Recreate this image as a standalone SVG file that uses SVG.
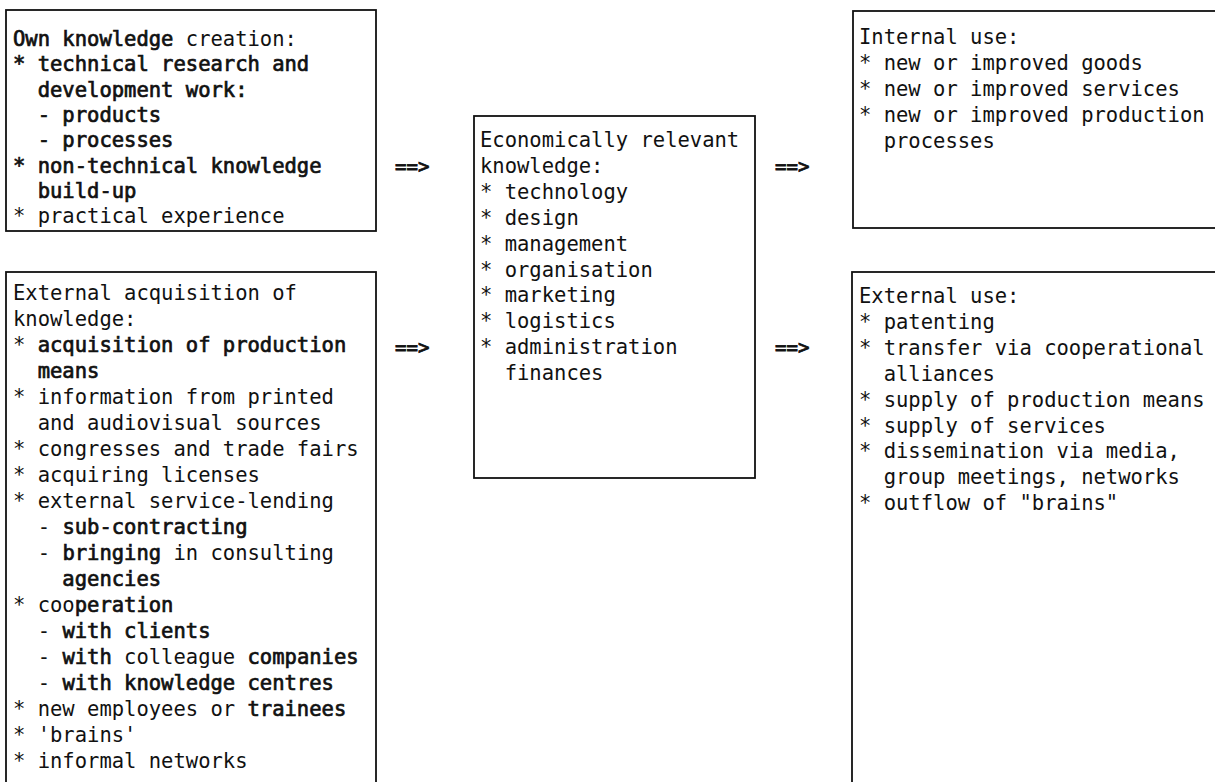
<svg xmlns="http://www.w3.org/2000/svg" width="1215" height="782" viewBox="0 0 1215 782">
<style>
  .box { fill: #ffffff; stroke: #111111; stroke-width: 1.8; }
  text { font-family: "DejaVu Sans Mono", "Liberation Mono", monospace; font-size: 20.5px; fill: #111111; white-space: pre; }
  .b { stroke: #111111; stroke-width: 0.7; }
  .arrow { font-size: 19px; stroke: #111111; stroke-width: 0.8; }
</style>
<rect x="0" y="0" width="1215" height="782" fill="#ffffff"/>

<g id="own-knowledge-creation">
  <rect class="box" x="6" y="10" width="370" height="221"/>
  <text x="13" y="46"><tspan class="b">Own knowledge</tspan> creation:</text>
  <text x="13" y="71.3" class="b">* technical research and</text>
  <text x="13" y="96.6" class="b">  development work:</text>
  <text x="13" y="121.9" class="b">  - products</text>
  <text x="13" y="147.2" class="b">  - processes</text>
  <text x="13" y="172.5" class="b">* non-technical knowledge</text>
  <text x="13" y="197.8" class="b">  build-up</text>
  <text x="13" y="223.1">* practical experience</text>
</g>

<g id="external-acquisition">
  <rect class="box" x="6" y="272" width="370" height="530"/>
  <text x="13" y="300">External acquisition of</text>
  <text x="13" y="326">knowledge:</text>
  <text x="13" y="352">* <tspan class="b">acquisition of production</tspan></text>
  <text x="13" y="378" class="b">  means</text>
  <text x="13" y="404">* information from printed</text>
  <text x="13" y="430">  and audiovisual sources</text>
  <text x="13" y="456">* congresses and trade fairs</text>
  <text x="13" y="482">* acquiring licenses</text>
  <text x="13" y="508">* external service-lending</text>
  <text x="13" y="534">  - <tspan class="b">sub-contracting</tspan></text>
  <text x="13" y="560">  - <tspan class="b">bringing</tspan> in consulting</text>
  <text x="13" y="586" class="b">    agencies</text>
  <text x="13" y="612">* coo<tspan class="b">peration</tspan></text>
  <text x="13" y="638">  - <tspan class="b">with clients</tspan></text>
  <text x="13" y="664">  - <tspan class="b">with</tspan> colleague <tspan class="b">companies</tspan></text>
  <text x="13" y="690">  - <tspan class="b">with knowledge centres</tspan></text>
  <text x="13" y="716">* new employees or <tspan class="b">trainees</tspan></text>
  <text x="13" y="742">* 'brains'</text>
  <text x="13" y="768">* informal networks</text>
</g>

<g id="economically-relevant-knowledge">
  <rect class="box" x="474" y="116" width="281" height="362"/>
  <text x="480" y="147">Economically relevant</text>
  <text x="480" y="172.9">knowledge:</text>
  <text x="480" y="198.8">* technology</text>
  <text x="480" y="224.7">* design</text>
  <text x="480" y="250.6">* management</text>
  <text x="480" y="276.5">* organisation</text>
  <text x="480" y="302.4">* marketing</text>
  <text x="480" y="328.3">* logistics</text>
  <text x="480" y="354.2">* administration</text>
  <text x="480" y="380.1">  finances</text>
</g>

<g id="internal-use">
  <rect class="box" x="853" y="11" width="380" height="217"/>
  <text x="859" y="44">Internal use:</text>
  <text x="859" y="69.9">* new or improved goods</text>
  <text x="859" y="95.8">* new or improved services</text>
  <text x="859" y="121.7">* new or improved production</text>
  <text x="859" y="147.6">  processes</text>
</g>

<g id="external-use">
  <rect class="box" x="852" y="272" width="380" height="530"/>
  <text x="859" y="303">External use:</text>
  <text x="859" y="328.9">* patenting</text>
  <text x="859" y="354.8">* transfer via cooperational</text>
  <text x="859" y="380.7">  alliances</text>
  <text x="859" y="406.6">* supply of production means</text>
  <text x="859" y="432.5">* supply of services</text>
  <text x="859" y="458.4">* dissemination via media,</text>
  <text x="859" y="484.3">  group meetings, networks</text>
  <text x="859" y="510.2">* outflow of "brains"</text>
</g>

<g id="connectors">
  <text class="arrow" x="395" y="173">==&gt;</text>
  <text class="arrow" x="775" y="173">==&gt;</text>
  <text class="arrow" x="395" y="354">==&gt;</text>
  <text class="arrow" x="775" y="354">==&gt;</text>
</g>
</svg>
